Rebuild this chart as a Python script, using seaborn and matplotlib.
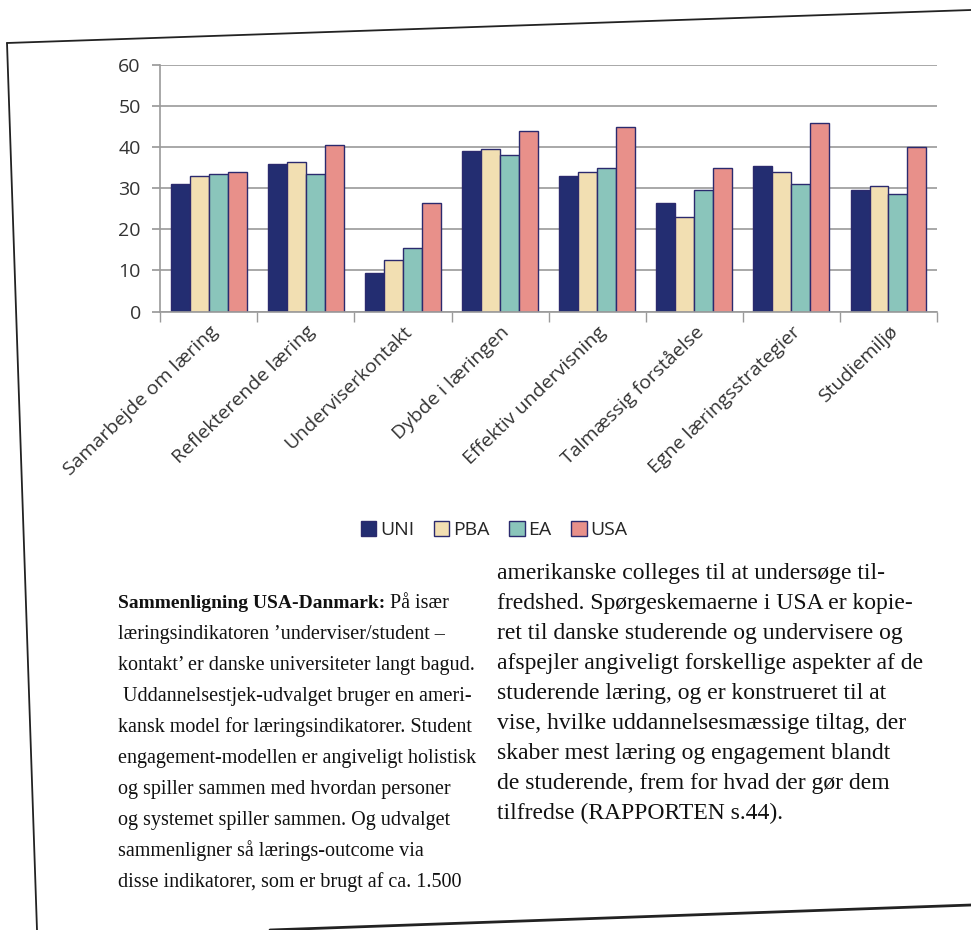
import numpy as np
import pandas as pd
import matplotlib
matplotlib.use("Agg")
import matplotlib.pyplot as plt
import seaborn as sns
from matplotlib.lines import Line2D

categories = [
    "Samarbejde om læring",
    "Reflekterende læring",
    "Underviserkontakt",
    "Dybde i læringen",
    "Effektiv undervisning",
    "Talmæssig forståelse",
    "Egne læringsstrategier",
    "Studiemiljø",
]
groups = ["UNI", "PBA", "EA", "USA"]
uni = [31, 36, 9.5, 39, 33, 26.5, 35.5, 29.5]
pba = [33, 36.5, 12.5, 39.5, 34, 23, 34, 30.5]
ea = [33.5, 33.5, 15.5, 38, 35, 29.5, 31, 28.5]
usa = [34, 40.5, 26.5, 44, 45, 35, 46, 40]
yticks = [0, 10, 20, 30, 40, 50, 60]

colors = ["#16237e", "#fde3a7", "#80cfc1", "#f7827b"]

left_lines = [
    "læringsindikatoren ’underviser/student –",
    "kontakt’ er danske universiteter langt bagud.",
    " Uddannelsestjek-udvalget bruger en ameri-",
    "kansk model for læringsindikatorer. Student",
    "engagement-modellen er angiveligt holistisk",
    "og spiller sammen med hvordan personer",
    "og systemet spiller sammen. Og udvalget",
    "sammenligner så lærings-outcome via",
    "disse indikatorer, som er brugt af ca. 1.500",
]
right_lines = [
    "amerikanske colleges til at undersøge til-",
    "fredshed. Spørgeskemaerne i USA er kopie-",
    "ret til danske studerende og undervisere og",
    "afspejler angiveligt forskellige aspekter af de",
    "studerende læring, og er konstrueret til at",
    "vise, hvilke uddannelsesmæssige tiltag, der",
    "skaber mest læring og engagement blandt",
    "de studerende, frem for hvad der gør dem",
    "tilfredse (RAPPORTEN s.44).",
]

df = pd.DataFrame({
    "kategori": np.repeat(categories, len(groups)),
    "gruppe": groups * len(categories),
    "score": np.column_stack([uni, pba, ea, usa]).ravel(),
})

sns.set_theme(style="white")
plt.rcParams["font.family"] = ["Open Sans", "DejaVu Sans"]

fig = plt.figure(figsize=(9.71, 9.3), dpi=100)
ax = fig.add_axes([0.165, 0.665, 0.80, 0.265])
sns.barplot(
    data=df, x="kategori", y="score", hue="gruppe",
    palette=colors, edgecolor="#2b2a6e", linewidth=1.0,
    width=0.78, ax=ax, legend=True,
)
ax.set_ylim(0, 60)
ax.set_yticks(yticks)
ax.set_xlim(-0.5, len(categories) - 0.5)
ax.yaxis.grid(True, color="#9a9a9a", linewidth=1.2)
ax.set_axisbelow(True)
for s in ["top", "right"]:
    ax.spines[s].set_visible(False)
for s in ["left", "bottom"]:
    ax.spines[s].set_color("#9a9a9a")
    ax.spines[s].set_linewidth(1.2)
ax.set_xlabel("")
ax.set_ylabel("")
ax.tick_params(axis="y", labelsize=14, colors="#333333", length=6, color="#9a9a9a", left=True, pad=8)
ax.set_xticks(np.arange(len(categories)))
ax.set_xticklabels(categories, rotation=44, ha="right", rotation_mode="anchor", fontsize=14, color="#333333")
ax.tick_params(axis="x", length=0, pad=8)
ax.set_xticks(np.arange(-0.5, len(categories) + 0.5, 1), minor=True)
ax.tick_params(axis="x", which="minor", length=7, color="#9a9a9a", bottom=True)

handles, labels = ax.get_legend_handles_labels()
ax.legend(
    handles, labels, loc="upper center", bbox_to_anchor=(0.43, -0.78),
    ncol=4, frameon=False, fontsize=14, handlelength=0.8, handleheight=0.8,
    handletextpad=0.2, columnspacing=1.0,
)

# page border
W, H = 971, 930
def page_line(p0, p1, lw):
    fig.add_artist(Line2D([p0[0] / W, p1[0] / W], [1 - p0[1] / H, 1 - p1[1] / H],
                          color="#222222", lw=lw, transform=fig.transFigure))

page_line((7, 43), (971, 10), 1.3)
page_line((7, 43), (37, 930), 1.3)
page_line((270, 930), (971, 905), 2.0)

# text columns
serif = ["Liberation Serif", "DejaVu Serif"]
fs_left = 14.5
x_left = 118 / W
y0 = 1 - 603 / H
dy = 31 / H
bold = fig.text(x_left, y0, "Sammenligning USA-Danmark:", family=serif, fontsize=fs_left - 0.5,
                fontweight="bold", va="center", color="#111111")
fig.canvas.draw()
bb = bold.get_window_extent().transformed(fig.transFigure.inverted())
fig.text(bb.x1 + 0.005, y0, "På især", family=serif, fontsize=fs_left, va="center", color="#111111")
for i, line in enumerate(left_lines, start=1):
    fig.text(x_left, y0 - i * dy, line, family=serif, fontsize=fs_left, va="center", color="#111111")

fs_right = 17
x_right = 497 / W
y1 = 1 - 573 / H
dy_r = 30 / H
for i, line in enumerate(right_lines):
    fig.text(x_right, y1 - i * dy_r, line, family=serif, fontsize=fs_right, va="center", color="#111111")

fig.savefig("out.png", dpi=100, facecolor="white")
